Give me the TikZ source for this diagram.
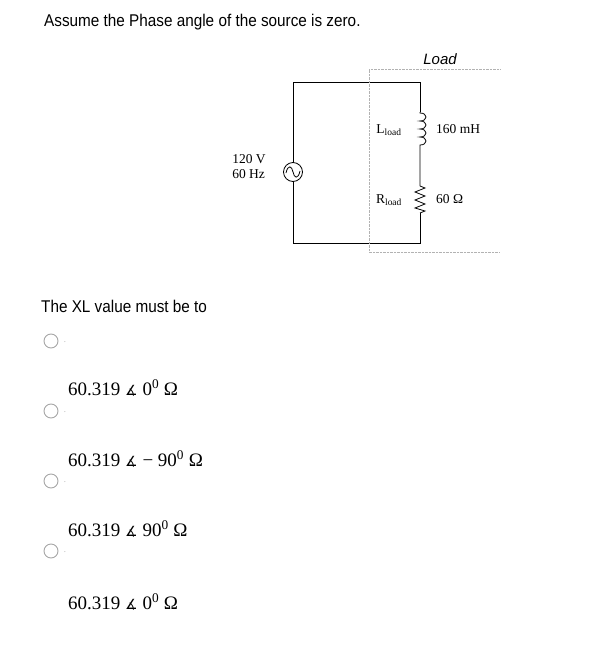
\documentclass[tikz,border=0pt]{standalone}
\usepackage{fontspec}
\setmainfont{Liberation Serif}
\newfontfamily\arial{Liberation Sans}
\newfontfamily\dvs{DejaVu Sans}
\tikzset{wire/.style={line width=0.8pt},
 radio/.style={circle,draw=gray!70,line width=0.9pt,minimum size=14pt,inner sep=0pt},
 ans/.style={anchor=west,font=\fontsize{19}{22}\selectfont,inner sep=0pt},
 lbl/.style={font=\fontsize{13.5}{15}\selectfont,inner sep=0pt}}
\newcommand{\ang}{{\dvs\fontsize{14}{16}\selectfont ∡}}
\begin{document}
\begin{tikzpicture}[x=1pt,y=-1pt]
\useasboundingbox (0,0) rectangle (601,661);
\node[anchor=west,inner sep=0pt,font=\arial\fontsize{17}{20}\selectfont,xscale=0.9] (t) at (44,22) {Assume the Phase angle of the source is zero.};
% circuit
\coordinate (tl) at (293,82); \coordinate (tr) at (420,82);
\coordinate (bl) at (293,243); \coordinate (br) at (420,243);
\node[circle,draw,line width=0.8pt,minimum size=19pt,inner sep=0pt] (src) at (293,172) {};
\draw[wire] (src.north) -- (tl) -- (tr) -- (420,112);
\draw[wire] (src.south) -- (bl) -- (br) -- (420,213);
\draw[wire] (286,173) .. controls (288,164) and (292,166) .. (293,172) .. controls (294,178) and (298,180) .. (300,171);
\draw[wire] (420,112) -- (420,113)
  .. controls (428,113) and (428,121) .. (420,121)
  .. controls (428,121) and (428,129) .. (420,129)
  .. controls (428,129) and (428,137) .. (420,137)
  .. controls (428,137) and (428,145) .. (420,145) -- (420,186);
\draw[wire] (420,186) -- (425,188) -- (415,192) -- (425,196) -- (415,200) -- (425,204) -- (415,208) -- (425,211) -- (420,213);
\draw[gray!60,densely dotted] (500,69) -- (369,69) -- (369,252) -- (500,252);
\node[font=\arial\itshape\fontsize{15}{17}\selectfont] (load) at (440,59) {Load};
\node[lbl,align=left] (vs) at (249,167) {120 V\\60 Hz};
\node[lbl] (ll) at (389,130) {L\textsubscript{load}};
\node[lbl] (rl) at (389,200) {R\textsubscript{load}};
\node[lbl,anchor=west] (lv) at (436,129) {160 mH};
\node[lbl,anchor=west] (rv) at (436,199) {60 Ω};
\node[anchor=west,inner sep=0pt,font=\arial\fontsize{17}{20}\selectfont,xscale=0.9] (q) at (41,306) {The XL value must be to};
\foreach \y/\n in {341/a,411/b,481/c,551/d}{
  \node[radio] (r\n) at (51,\y) {};
  \node[font=\scriptsize,text=gray] (d\n) at (65,\y+1) {.};
}
\node[ans] (a1) at (68,388) {60.319 \ang\ 0\textsuperscript{0} Ω};
\node[ans] (a2) at (68,459) {60.319 \ang\ − 90\textsuperscript{0} Ω};
\node[ans] (a3) at (68,529) {60.319 \ang\ 90\textsuperscript{0} Ω};
\node[ans] (a4) at (68,602) {60.319 \ang\ 0\textsuperscript{0} Ω};
\end{tikzpicture}
\end{document}
